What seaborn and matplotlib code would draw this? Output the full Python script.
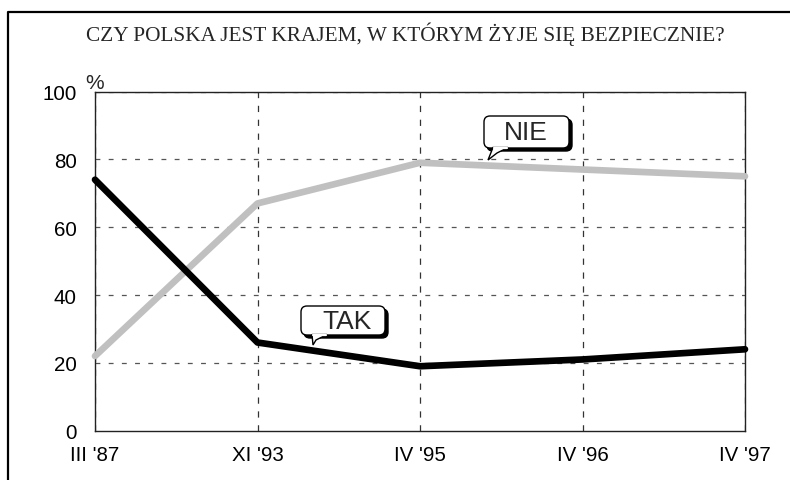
import matplotlib
matplotlib.use("Agg")
import matplotlib.pyplot as plt
import matplotlib.transforms as mtransforms
from matplotlib.patches import FancyBboxPatch, Polygon
from matplotlib.lines import Line2D
import numpy as np
import pandas as pd
import seaborn as sns

# ---- data ----
periods = ["III '87", "XI '93", "IV '95", "IV '96", "IV '97"]
tak = [74, 26, 19, 21, 24]
nie = [22, 67, 79, 77, 75]
title = "CZY POLSKA JEST KRAJEM, W KTÓRYM ŻYJE SIĘ BEZPIECZNIE?"
yticks = [0, 20, 40, 60, 80, 100]

sns.set_style("white")
plt.rcParams['font.family'] = ['Liberation Sans', 'DejaVu Sans']
plt.rcParams['lines.scale_dashes'] = False

W, H = 790, 481
fig = plt.figure(figsize=(W / 100, H / 100), dpi=100)
ax = fig.add_axes([95 / W, 1 - 431.7 / H, (745 - 95) / W, (431.7 - 92.5) / H])

df = pd.DataFrame({
    "period": periods * 2,
    "value": nie + tak,
    "series": ["NIE"] * len(periods) + ["TAK"] * len(periods),
})
sns.lineplot(data=df, x="period", y="value", hue="series",
             palette={"NIE": "#c0c0c0", "TAK": "#000000"},
             linewidth=4.8, legend=False, ax=ax, sort=False)
for ln in ax.lines:
    ln.set_solid_capstyle("round")
    ln.set_solid_joinstyle("round")
    ln.set_clip_on(False)
    ln.set_zorder(5)

ax.set_xlim(0, len(periods) - 1)
ax.set_ylim(0, 100)
ax.set_yticks(yticks)
ax.set_xticks(range(len(periods)))
ax.set_xticklabels(periods)
ax.set_xlabel("")
ax.set_ylabel("")

# grid
for i in range(len(periods)):
    ax.axvline(i, color="#333333", lw=0.9, dashes=(4.5, 5.5), zorder=1)
for v in yticks[1:]:
    ax.axhline(v, color="#555555", lw=0.9, dashes=(3.5, 6.0), zorder=1)

for s in ax.spines.values():
    s.set_visible(True)
    s.set_color("#222222")
    s.set_linewidth(1.0)

ax.tick_params(axis="y", length=0, pad=13, labelsize=14.8, colors="#000000")
ax.tick_params(axis="x", length=7, width=1, direction="out", pad=3,
               labelsize=14.8, colors="#000000")

# percent sign
ax.text(0.0, 1.0, "%", transform=ax.transAxes, ha="center", va="bottom",
        fontsize=15)

# title
fig.text(405.5 / W, 1 - 34.5 / H, title, ha="center", va="center",
         fontsize=15.3, family=["Liberation Serif", "DejaVu Serif"])

# figure frame (cropped box)
fig.add_artist(Line2D([8.3 / W, 8.3 / W, 1.0], [0.0, 1 - 12.7 / H, 1 - 12.7 / H],
                      transform=fig.transFigure, color="black", lw=1.6))

# callout bubbles
def bubble(label, xi, yv, x0, x1, y0, y1, t0, t1, tx, ty):
    # offsets in pixels relative to tail tip at (xi, yv) data coordinates
    tr = (mtransforms.Affine2D().scale(1 / 100) + fig.dpi_scale_trans +
          mtransforms.ScaledTranslation(xi, yv, ax.transData))
    shadow = FancyBboxPatch((x0 + 3, y0 - 3), x1 - x0, y1 - y0,
                            boxstyle="round,pad=0,rounding_size=6",
                            transform=tr, fc="black", ec="black", lw=1,
                            zorder=10, clip_on=False)
    box = FancyBboxPatch((x0, y0), x1 - x0, y1 - y0,
                         boxstyle="round,pad=0,rounding_size=6",
                         transform=tr, fc="white", ec="black", lw=1,
                         zorder=11, clip_on=False)
    tail = Polygon([(t0, y0 + 0.5), (0, 0), (t0 + 4, y0 - 5), (t1, y0 + 0.5)],
                   closed=True, transform=tr, fc="white", ec="black", lw=1,
                   zorder=12, clip_on=False)
    cover = Line2D([t0 + 0.8, t1 - 0.8], [y0 + 0.2, y0 + 0.2], transform=tr,
                   color="white", lw=1.6, zorder=13, clip_on=False)
    ax.add_patch(shadow)
    ax.add_patch(box)
    ax.add_patch(tail)
    ax.add_artist(cover)
    ax.text(tx, ty, label, transform=tr, ha="center", va="center",
            fontsize=19, zorder=14, clip_on=False)

# TAK tip near (313, 345) px ; box 301..385 x, 306..336 y (image)
bubble("TAK", (313 - 95) / 162.5, (431.7 - 346) / 3.392,
       -12, 72, 10, 39, -1, 14, 34, 24)
# NIE tip near (488, 160) px ; box 484..569 x, 116..149 y (image)
bubble("NIE", (488 - 95) / 162.5, (431.7 - 161) / 3.392,
       -4, 81, 12, 44, 5, 20, 38, 28)

fig.savefig("out.png", dpi=100)
